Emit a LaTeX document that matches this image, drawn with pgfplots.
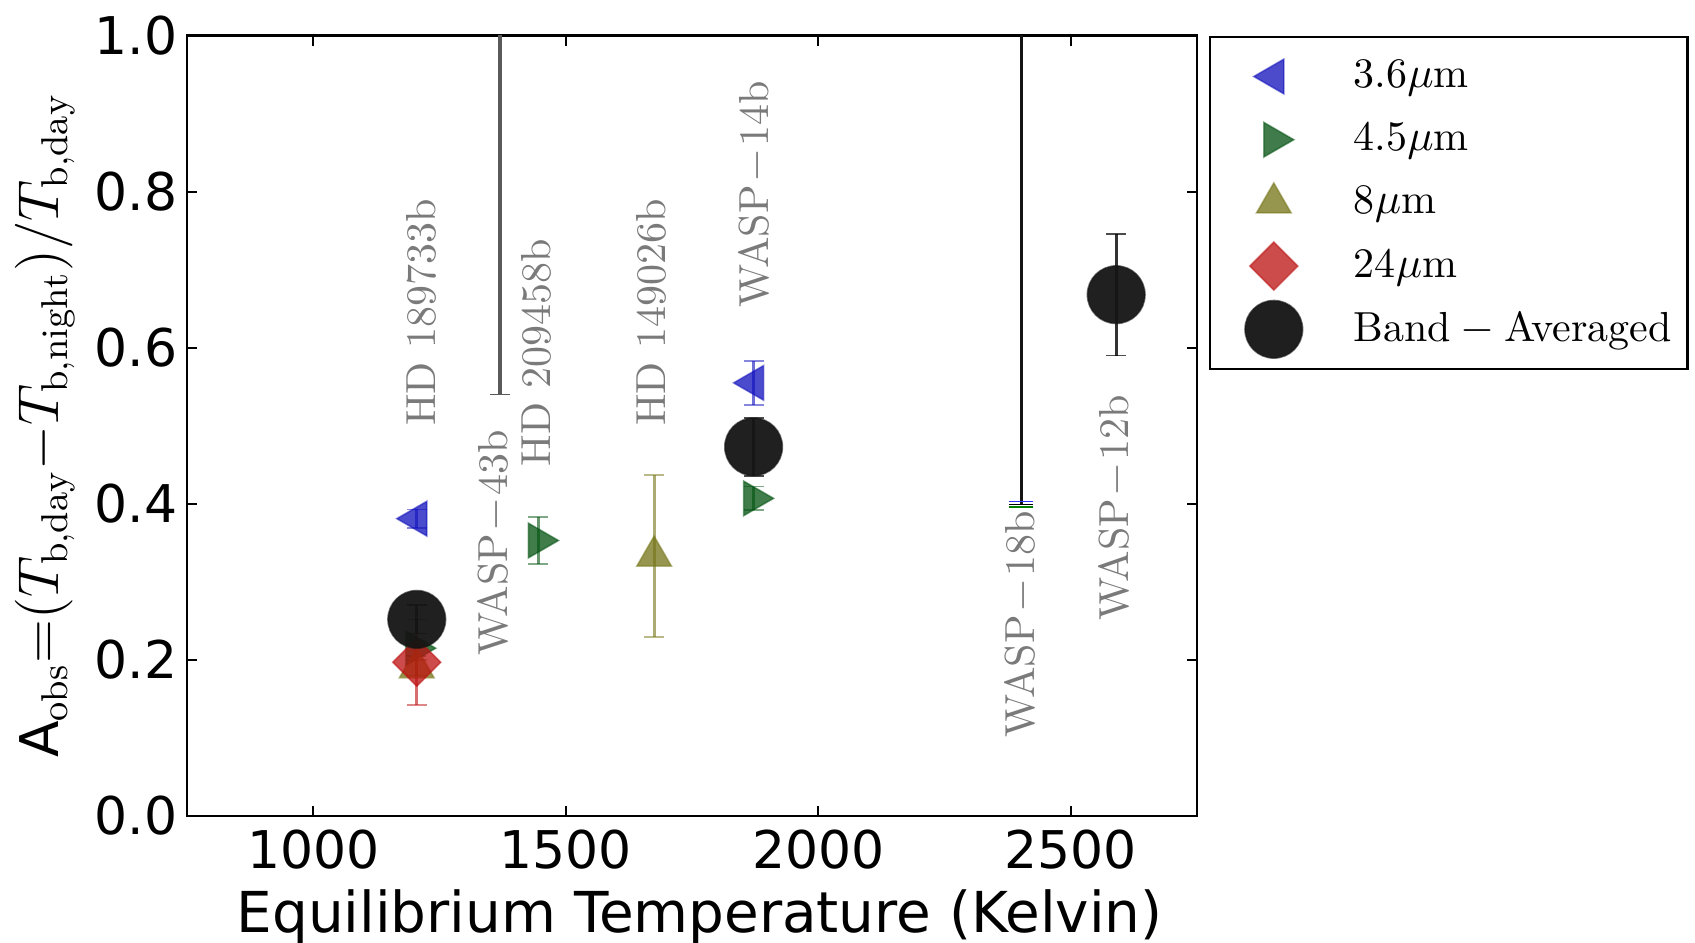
\documentclass[border=0pt]{standalone}
\usepackage{pgfplots}
\pgfplotsset{compat=1.18}
\usepackage{fontspec}
\setsansfont{DejaVu Sans}
\definecolor{cB}{RGB}{15,15,188}
\definecolor{cG}{RGB}{0,81,15}
\definecolor{cO}{RGB}{115,115,21}
\definecolor{cR}{RGB}{188,15,15}
\definecolor{cK}{RGB}{20,20,20}
\definecolor{cT}{RGB}{122,122,122}
\definecolor{cL}{RGB}{90,90,90}
\newcommand{\annfont}{\fontsize{10.5}{12}\selectfont}
\newcommand{\mm}{\kern0.6pt$-$\kern0.6pt}
\begin{document}
\begin{tikzpicture}
\path[use as bounding box] (-46.75pt,-31.75pt) rectangle (377pt,204pt);
\begin{axis}[
  at={(0,0)}, anchor=south west,
  scale only axis, width=252.5pt, height=195.1pt,
  xmin=750, xmax=2750, ymin=0, ymax=1,
  xtick={1000,1500,2000,2500}, xticklabels={1000,1500,2000,2500},
  ytick={0,0.2,0.4,0.6,0.8,1.0}, yticklabels={0.0,0.2,0.4,0.6,0.8,1.0},
  tick align=inside, tick pos=both, major tick length=2.5pt,
  axis line style={line width=0.65pt},
  every tick/.style={black, line width=0.5pt},
  ticklabel style={font=\sffamily\fontsize{13}{15}\selectfont, inner sep=0pt},
  xticklabel style={anchor=center, yshift=-8.4pt},
  yticklabel style={anchor=east, xshift=-2.25pt},
  xlabel={\sffamily\fontsize{14.1}{16}\selectfont Equilibrium Temperature (Kelvin)},
  every axis x label/.style={at={(rel axis cs:0.5,0)}, anchor=center, yshift=-25.25pt, xshift=1.9pt},
  ylabel={\fontsize{13.35}{16}\selectfont\textsf{A}$_{\mathrm{obs}}{=}(T_{\mathrm{b,day}}{-}T_{\mathrm{b,night}})/T_{\mathrm{b,day}}$},
  every axis y label/.style={at={(rel axis cs:0,0.5)}, xshift=-35.4pt, rotate=90, anchor=center},
  legend style={at={(rel axis cs:1.0114,1)}, anchor=north west, draw=black, line width=0.65pt,
    font=\annfont, inner xsep=4pt, inner ysep=2pt, row sep=0pt, column sep=8pt,
    nodes={inner sep=0pt, anchor=west}},
  legend cell align=left,
  legend image code/.code={\path[draw=none,fill=none] (0pt,-7.9pt) rectangle (24pt,7.9pt); \draw[#1, overlay] plot coordinates {(12pt,0pt)};},
]
% WASP-43b and WASP-18b lower limits
\addplot[cL, line width=1.2pt, forget plot] coordinates {(1370,0.54) (1370,1.05)};
\addplot[only marks, mark=-, mark size=2.5pt, cL, forget plot] coordinates {(1370,0.54)};
\addplot[cK, line width=0.7pt, forget plot] coordinates {(2402,0.40) (2402,1.05)};
\addplot[only marks, mark=-, mark size=3pt, blue!80, forget plot] coordinates {(2402,0.403)};
\addplot[only marks, mark=-, mark size=3pt, black, forget plot] coordinates {(2402,0.399)};
\addplot[only marks, mark=-, mark size=3pt, green!50!black, forget plot] coordinates {(2402,0.396)};

\addplot[only marks, mark=triangle*, mark size=5pt,
  mark options={rotate=90, fill=cB, fill opacity=0.75, draw=cB, draw opacity=0.5, line width=0.4pt},
  error bars/.cd, y dir=both, y explicit,
  error bar style={cB, opacity=0.6, line width=0.8pt},
  error mark options={rotate=90, mark size=2.5pt, cB, opacity=0.5}]
  coordinates {(1205,0.381) +- (0,0.012) (1872,0.555) +- (0,0.028)};
\addlegendentry{3.6$\mu$m}
\addplot[only marks, mark=triangle*, mark size=5pt,
  mark options={rotate=-90, fill=cG, fill opacity=0.75, draw=cG, draw opacity=0.5, line width=0.4pt},
  error bars/.cd, y dir=both, y explicit,
  error bar style={cG, opacity=0.6, line width=0.8pt},
  error mark options={rotate=90, mark size=2.5pt, cG, opacity=0.5}]
  coordinates {(1203,0.215) +- (0,0.01) (1446,0.353) +- (0,0.03) (1872,0.407) +- (0,0.015)};
\addlegendentry{4.5$\mu$m}
\addplot[only marks, mark=triangle*, mark size=5pt,
  mark options={fill=cO, fill opacity=0.75, draw=cO, draw opacity=0.5, line width=0.4pt},
  error bars/.cd, y dir=both, y explicit,
  error bar style={cO, opacity=0.6, line width=0.8pt},
  error mark options={rotate=90, mark size=2.5pt, cO, opacity=0.5}]
  coordinates {(1205,0.19) +- (0,0.01) (1675,0.333) +- (0,0.104)};
\addlegendentry{8$\mu$m}
\addplot[only marks, mark=square*, mark size=4.25pt,
  mark options={rotate=45, fill=cR, fill opacity=0.75, draw=cR, draw opacity=0.5, line width=0.4pt},
  error bars/.cd, y dir=both, y explicit,
  error bar style={cR, opacity=0.6, line width=0.8pt},
  error mark options={rotate=90, mark size=2.5pt, cR, opacity=0.5}]
  coordinates {(1205,0.197) +- (0,0.055)};
\addlegendentry{24$\mu$m}
\addplot[only marks, mark=*, mark size=7.2pt,
  mark options={fill=cK, fill opacity=0.95, draw=cK, draw opacity=0.6, line width=0.4pt},
  error bars/.cd, y dir=both, y explicit,
  error bar style={black, opacity=0.8, line width=0.8pt},
  error mark options={rotate=90, mark size=2.5pt, black, opacity=0.7}]
  coordinates {(1205,0.252) +- (0,0.018) (1872,0.473) +- (0,0.037) (2590,0.668) +- (0,0.078)};
\addlegendentry{Band${}-{}$Averaged}

\begin{scope}[every node/.style={rotate=90, anchor=west, inner sep=0pt, text=cT, font=\annfont}]
\node at (axis cs:1214,0.499) {HD 189733b};
\node at (axis cs:1359,0.204) {WASP\mm43b};
\node at (axis cs:1442,0.447) {HD 209458b};
\node at (axis cs:1669,0.499) {HD 149026b};
\node at (axis cs:1876,0.651) {WASP\mm14b};
\node at (axis cs:2402,0.100) {WASP\mm18b};
\node at (axis cs:2588,0.249) {WASP\mm12b};
\end{scope}
\end{axis}
\end{tikzpicture}
\end{document}
